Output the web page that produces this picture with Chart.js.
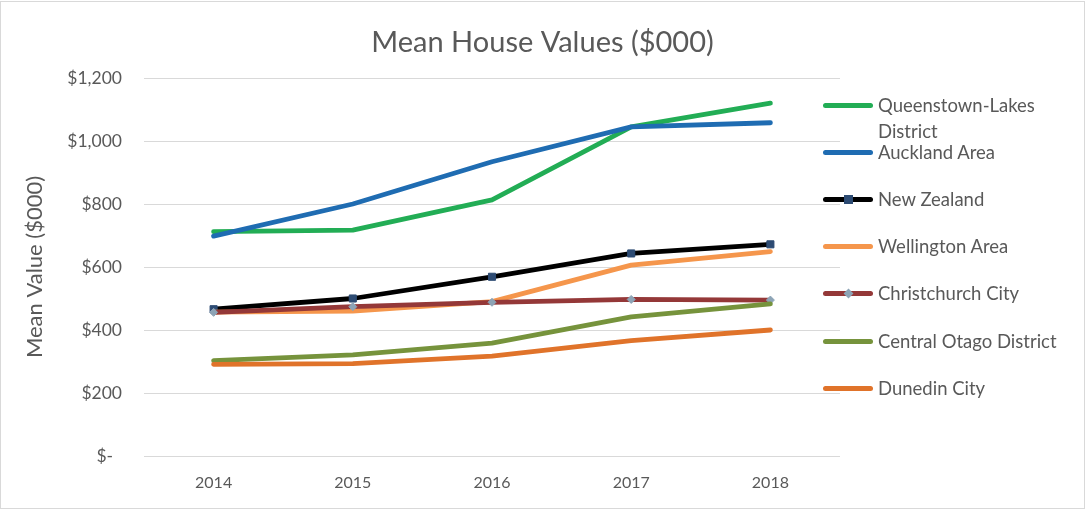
<!DOCTYPE html>
<html>
<head>
<meta charset="utf-8">
<script src="https://cdn.jsdelivr.net/npm/chart.js@4/dist/chart.umd.min.js"></script>
<style>
  html, body { margin: 0; padding: 0; background: #fff; }
  #wrap { position: relative; width: 1085px; height: 509px; overflow: hidden; }
  #frame { position: absolute; left: 0; top: 1px; width: 1083px; height: 506px; border: 1px solid #d9d9d9; pointer-events: none; }
  canvas { position: absolute; left: 0; top: 0; }
  #legend { position: absolute; left: 823px; top: 0; font-family: Lato, "Open Sans", sans-serif; font-size: 18.5px; color: #595959; }
  .item { position: absolute; left: 0; white-space: nowrap; }
  .sample { position: absolute; left: 0; width: 50px; height: 5px; border-radius: 3px; }
  .mark { position: absolute; }
  .label { position: absolute; left: 55px; line-height: 26px; }
</style>
</head>
<body>
<div id="wrap">
  <canvas id="c" width="1085" height="509"></canvas>
  <div id="legend"></div>
  <div id="frame"></div>
</div>
<script>
const categories = ["2014", "2015", "2016", "2017", "2018"];
const seriesNames = ["Queenstown-Lakes District", "Auckland Area", "New Zealand", "Wellington Area", "Christchurch City", "Central Otago District", "Dunedin City"];
const queenstownLakes = [712, 717, 813, 1045, 1120];
const aucklandArea    = [698, 800, 934, 1045, 1058];
const newZealand      = [466, 500, 569, 643, 672];
const wellingtonArea  = [457, 460, 490, 606, 649];
const christchurch    = [456, 474, 488, 497, 495];
const centralOtago    = [303, 321, 358, 442, 483];
const dunedinCity     = [291, 293, 317, 366, 400];
const yTicks = [0, 200, 400, 600, 800, 1000, 1200];

const seriesValues = [queenstownLakes, aucklandArea, newZealand, wellingtonArea, christchurch, centralOtago, dunedinCity];
const colors = ["#22ad55", "#1f6cb2", "#000000", "#f5964c", "#943838", "#76933c", "#e0732a"];
const pointStyles = [false, false, "rect", false, "rectRot", false, false];
const pointColors = [null, null, "#2d4b73", null, "#8da4b6", null, null];
const pointSizes = [0, 0, 5, 0, 4, 0, 0];

const datasets = seriesNames.map((name, i) => ({
  label: name,
  data: seriesValues[i],
  borderColor: colors[i],
  backgroundColor: colors[i],
  borderWidth: 4.8,
  borderCapStyle: "round",
  borderJoinStyle: "round",
  tension: 0,
  pointStyle: pointStyles[i] || "circle",
  pointRadius: pointSizes[i],
  pointBackgroundColor: pointColors[i] || colors[i],
  pointBorderColor: pointColors[i] || colors[i],
  pointBorderWidth: 1,
  order: seriesNames.length - i
}));

const FONT = "Lato, 'Open Sans', sans-serif";
const TXT = "#595959";

new Chart(document.getElementById("c"), {
  type: "line",
  data: { labels: categories, datasets },
  options: {
    responsive: false,
    animation: false,
    layout: { padding: 0 },
    plugins: {
      legend: { display: false },
      tooltip: { enabled: false },
      title: {
        display: true,
        text: "Mean House Values ($000)",
        color: TXT,
        font: { family: FONT, size: 29, weight: "normal", lineHeight: 1.2 },
        padding: { top: 25, bottom: 18.2 }
      }
    },
    scales: {
      x: {
        type: "category",
        offset: true,
        afterFit: (s) => { s.height = 53; },
        grid: { display: false, drawTicks: false, offset: true },
        border: { display: false },
        ticks: {
          color: TXT,
          font: { family: FONT, size: 16 },
          padding: 17,
          autoSkip: false,
          maxRotation: 0
        }
      },
      y: {
        min: 0,
        max: 1200,
        afterBuildTicks: (s) => { s.ticks = yTicks.map(v => ({ value: v })); },
        afterFit: (s) => { s.width = 144; },
        grid: { color: "#d9d9d9", lineWidth: 1, drawTicks: false },
        border: { display: false },
        ticks: {
          color: TXT,
          font: { family: FONT, size: 17.5 },
          padding: 22,
          callback: (v) => v === 0 ? "$-  " : "$" + v.toLocaleString("en-US")
        },
        title: {
          display: true,
          text: "Mean Value ($000)",
          color: TXT,
          font: { family: FONT, size: 22 },
          padding: { top: 22, bottom: 0 }
        }
      },
      yRight: {
        position: "right",
        min: 0,
        max: 1200,
        afterFit: (s) => { s.width = 245; },
        grid: { display: false, drawTicks: false },
        border: { display: false },
        ticks: { display: false }
      }
    }
  }
});

// HTML legend
const legendTops = [105, 152, 199, 246, 293, 341, 388];
const legend = document.getElementById("legend");
seriesNames.forEach((name, i) => {
  const item = document.createElement("div");
  item.className = "item";
  item.style.top = legendTops[i] + "px";
  const s = document.createElement("div");
  s.className = "sample";
  s.style.background = colors[i];
  s.style.top = "-2.5px";
  item.appendChild(s);
  if (pointStyles[i]) {
    const m = document.createElement("div");
    m.className = "mark";
    const sz = pointStyles[i] === "rect" ? 9 : 7;
    m.style.width = sz + "px"; m.style.height = sz + "px";
    m.style.left = (25 - sz / 2) + "px"; m.style.top = (-sz / 2) + "px";
    m.style.background = pointColors[i];
    if (pointStyles[i] === "rectRot") m.style.transform = "rotate(45deg)";
    item.appendChild(m);
  }
  const l = document.createElement("div");
  l.className = "label";
  l.style.top = "-13px";
  if (name === "Queenstown-Lakes District") l.innerHTML = "Queenstown-Lakes<br>District";
  else l.textContent = name;
  item.appendChild(l);
  legend.appendChild(item);
});
</script>
</body>
</html>
